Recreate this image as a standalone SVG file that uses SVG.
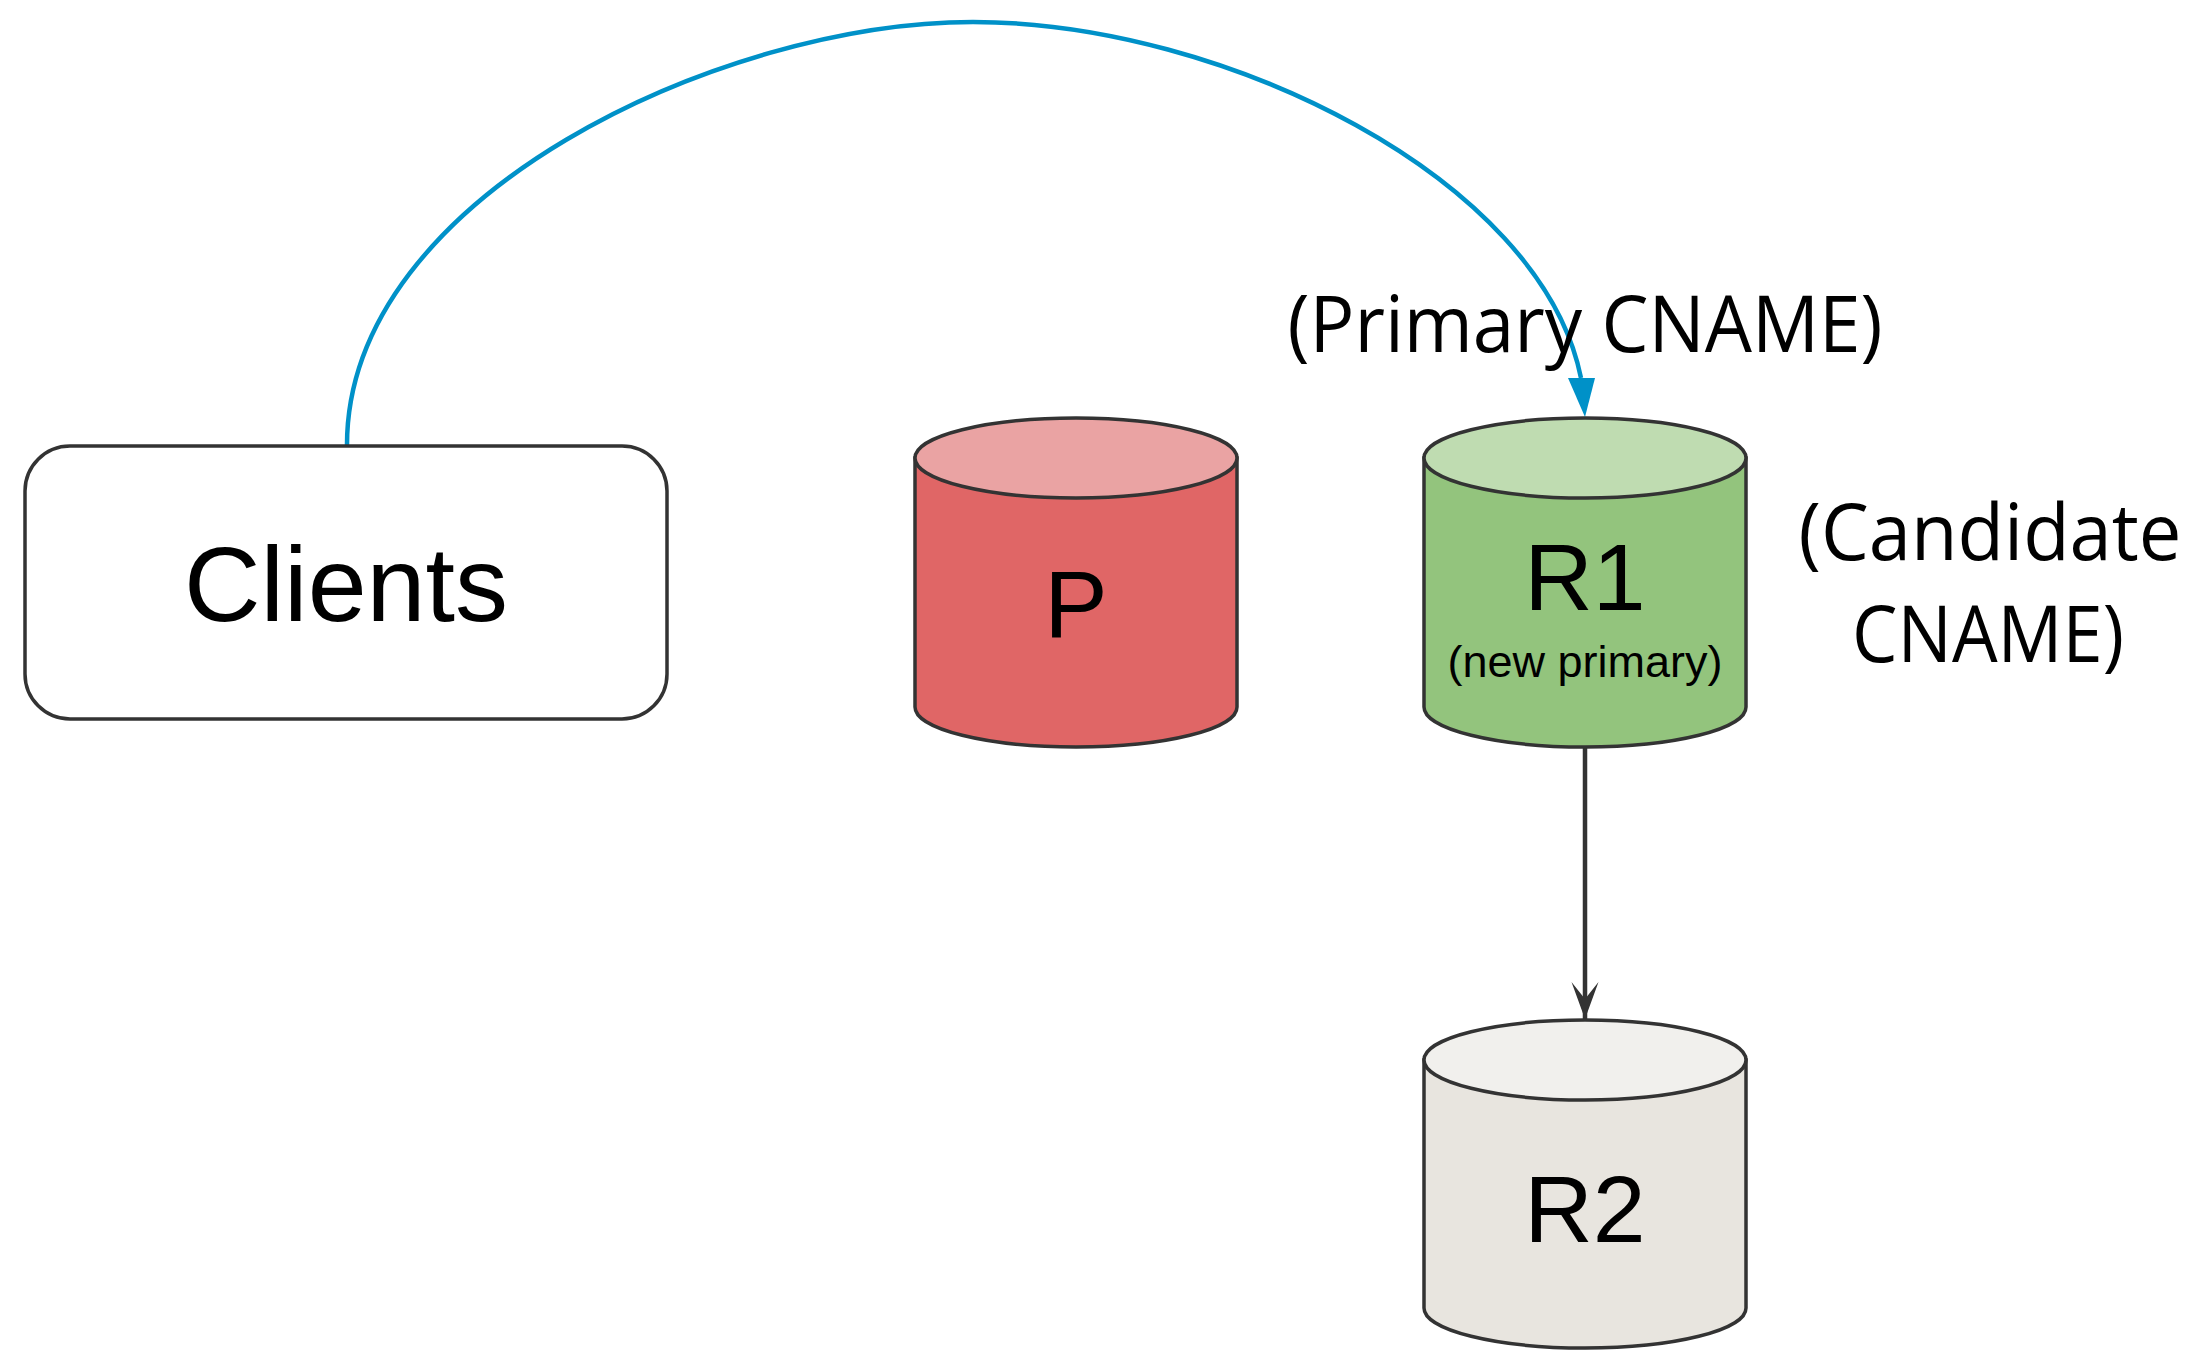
<svg xmlns="http://www.w3.org/2000/svg" width="2198" height="1352" viewBox="0 0 2198 1352">
  <style>
    .shape { stroke: #333333; stroke-width: 3.5; }
    .label { font-family: "Liberation Sans", Arial, sans-serif; fill: #000000; text-anchor: middle; }
    .note { font-family: "Open Sans", "Noto Sans", sans-serif; fill: #000000; text-anchor: middle; font-size: 78px; }
    .edge { fill: none; stroke-width: 4.5; }
  </style>
  <defs>
    <marker id="arrowDark" markerUnits="userSpaceOnUse" markerWidth="40" markerHeight="40" viewBox="0 0 40 30" refX="37" refY="15" orient="auto">
      <path d="M0,1.5 L37,15 L0,28.5 L17,15 Z" fill="#333333"/>
    </marker>
  </defs>
  <rect width="2198" height="1352" fill="#ffffff"/>

  <g id="edges">
    <path id="edge-clients-r1" class="edge" stroke="#0091C8" d="M347,445 C347,195 723,22 973,22 C1223,22 1541,178 1581,378"/>
    <polygon points="1568,378 1595,378 1585,417" fill="#0091C8"/>
    <path id="edge-r1-r2" class="edge" stroke="#333333" d="M1585,746 L1585,1019" marker-end="url(#arrowDark)"/>
  </g>

  <g id="node-clients">
    <rect class="shape" x="25" y="446" width="642" height="273" rx="45" ry="45" fill="#ffffff"/>
    <text class="label" x="346" y="621" font-size="106">Clients</text>
  </g>

  <g id="node-p">
    <path class="shape" fill="#E06666" d="M915,458 V707 A161,40 0 0 0 1237,707 V458 Z"/>
    <ellipse class="shape" cx="1076" cy="458" rx="161" ry="40" fill="#EAA3A3"/>
    <text class="label" x="1076" y="637" font-size="95">P</text>
  </g>

  <g id="node-r1">
    <path class="shape" fill="#93C47D" d="M1424,458 V707 A161,40 0 0 0 1746,707 V458 Z"/>
    <ellipse class="shape" cx="1585" cy="458" rx="161" ry="40" fill="#BFDCB1"/>
    <text class="label" x="1585" y="610" font-size="95">R1</text>
    <text class="label" x="1585" y="677" font-size="45">(new primary)</text>
  </g>

  <g id="node-r2">
    <path class="shape" fill="#E8E5DF" d="M1424,1060 V1308 A161,40 0 0 0 1746,1308 V1060 Z"/>
    <ellipse class="shape" cx="1585" cy="1060" rx="161" ry="40" fill="#F1F0ED"/>
    <text class="label" x="1585" y="1242" font-size="95">R2</text>
  </g>

  <g id="label-primary-cname">
    <text class="note" x="1585" y="352" textLength="595" lengthAdjust="spacingAndGlyphs">(Primary CNAME)</text>
  </g>

  <g id="label-candidate-cname">
    <text class="note" x="1990" y="560" textLength="383" lengthAdjust="spacingAndGlyphs">(Candidate</text>
    <text class="note" x="1988" y="662" textLength="272" lengthAdjust="spacingAndGlyphs">CNAME)</text>
  </g>
</svg>
